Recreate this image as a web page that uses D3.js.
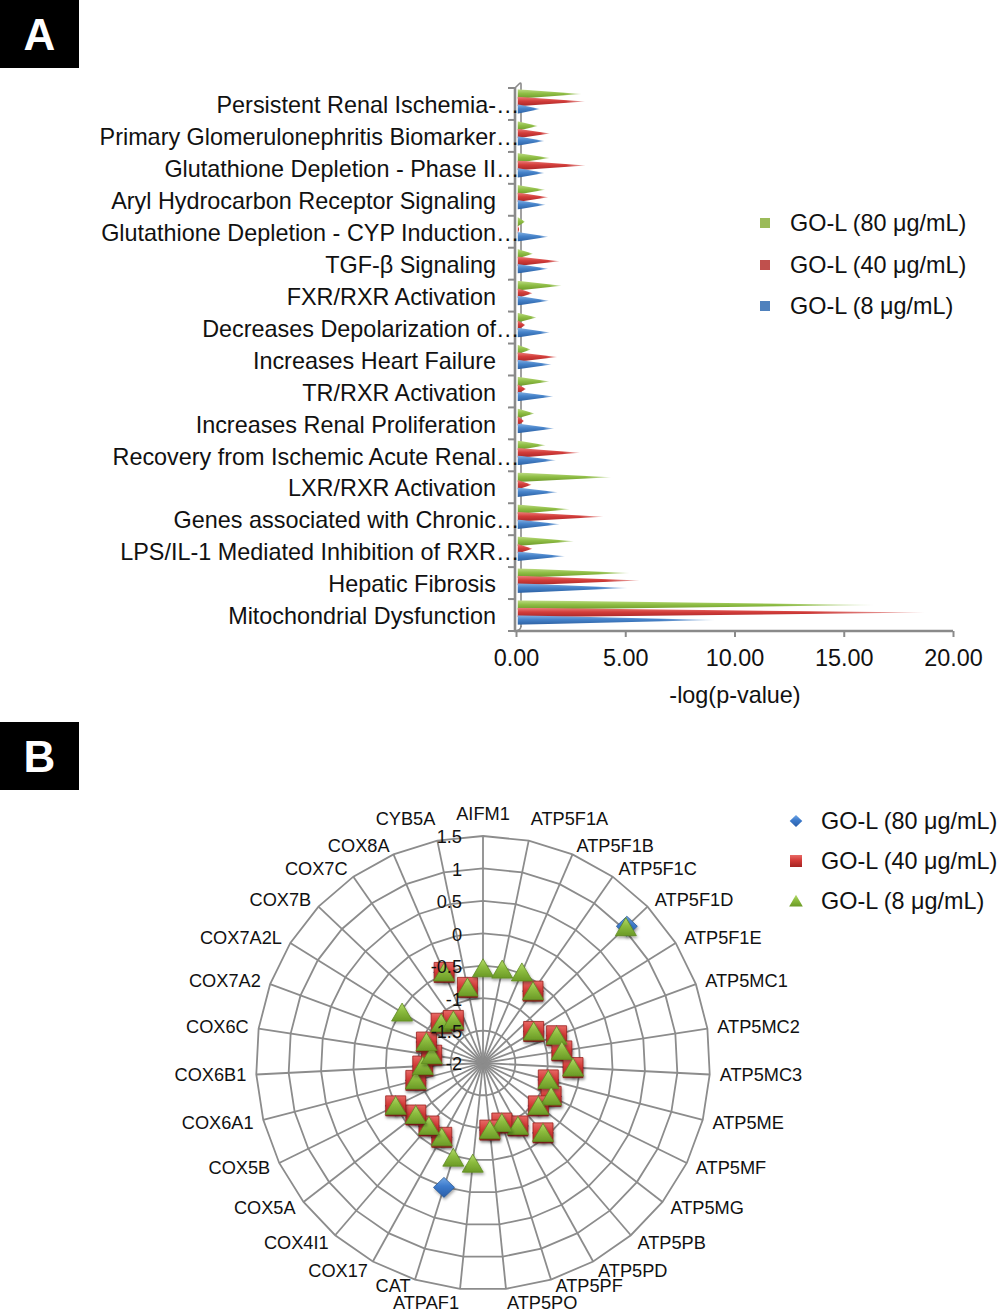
<!DOCTYPE html>
<html><head><meta charset="utf-8">
<script src="https://cdn.jsdelivr.net/npm/d3@7"></script>
<style>
html,body{margin:0;padding:0;background:#fff;}
svg{display:block;font-family:"Liberation Sans",Arial,sans-serif;}
</style></head>
<body>
<svg id="chart" width="1000" height="1315"></svg>
<script>
// ---------------- Panel A data ----------------
const categoriesA = [
  "Persistent Renal Ischemia-…",
  "Primary Glomerulonephritis Biomarker…",
  "Glutathione Depletion - Phase II…",
  "Aryl Hydrocarbon Receptor Signaling",
  "Glutathione Depletion - CYP Induction…",
  "TGF-β Signaling",
  "FXR/RXR Activation",
  "Decreases Depolarization of…",
  "Increases Heart Failure",
  "TR/RXR Activation",
  "Increases Renal Proliferation",
  "Recovery from Ischemic Acute Renal…",
  "LXR/RXR Activation",
  "Genes associated with Chronic…",
  "LPS/IL-1 Mediated Inhibition of RXR…",
  "Hepatic Fibrosis",
  "Mitochondrial Dysfunction"
];
const seriesNamesA = ["GO-L (80 μg/mL)", "GO-L (40 μg/mL)", "GO-L (8 μg/mL)"];
const valuesA80 = [3.0, 1.0, 1.55, 1.33, 0.41, 0.78, 2.09, 0.94, 0.67, 1.53, 0.84, 1.36, 4.35, 2.47, 2.65, 5.2, 16.35];
const valuesA40 = [3.16, 1.55, 3.19, 1.48, 0.15, 2.0, 0.76, 0.43, 1.89, 0.46, 0.37, 2.93, 0.72, 4.0, 0.76, 5.67, 18.7];
const valuesA8  = [1.1, 1.3, 1.3, 1.36, 1.48, 1.48, 1.51, 1.55, 1.63, 1.71, 1.75, 1.83, 1.91, 2.01, 2.24, 5.1, 9.1];
const ticksA = [0, 5, 10, 15, 20];
const axisTitleA = "-log(p-value)";

// ---------------- Panel B data ----------------
const categoriesB = ["AIFM1","ATP5F1A","ATP5F1B","ATP5F1C","ATP5F1D","ATP5F1E","ATP5MC1","ATP5MC2","ATP5MC3","ATP5ME","ATP5MF","ATP5MG","ATP5PB","ATP5PD","ATP5PF","ATP5PO","ATPAF1","CAT","COX17","COX4I1","COX5A","COX5B","COX6A1","COX6B1","COX6C","COX7A2","COX7A2L","COX7B","COX7C","COX8A","CYB5A"];
const seriesNamesB = ["GO-L (80 μg/mL)", "GO-L (40 μg/mL)", "GO-L (8 μg/mL)"];
const valuesB80 = [null,null,null,-0.65,1.06,-1.08,-0.79,-0.77,-0.61,-0.96,-0.83,-0.92,-0.58,-0.89,-1.03,-0.96,null,0.01,-0.69,-0.72,-0.69,-0.5,-0.93,-1.07,-1.2,-1.07,null,-1.11,-1.2,-0.48,-0.81];
const valuesB40 = [null,null,null,-0.65,null,-1.08,-0.79,-0.77,-0.61,-0.96,-0.83,-0.92,-0.58,-0.89,-1.03,-0.96,null,null,-0.69,-0.72,-0.69,-0.5,-0.93,-1.07,-1.2,-1.07,null,-1.11,-1.2,-0.48,-0.81];
const valuesB8  = [-0.54,-0.53,-0.48,-0.65,1.04,-1.08,-0.79,-0.77,-0.61,-0.96,-0.83,-0.92,-0.58,-0.89,-1.03,-0.96,-0.44,-0.47,-0.69,-0.72,-0.69,-0.5,-0.93,-1.07,-1.2,-1.07,-0.53,-1.11,-1.2,-0.48,-0.81];
const ticksB = [-2, -1.5, -1, -0.5, 0, 0.5, 1, 1.5];

// ---------------- drawing ----------------
const svg = d3.select("#chart");
const defs = svg.append("defs");

function vGrad(id, c1, c2, c3) {
  const g = defs.append("linearGradient").attr("id", id).attr("x1",0).attr("y1",0).attr("x2",0).attr("y2",1);
  g.append("stop").attr("offset","0%").attr("stop-color",c1);
  g.append("stop").attr("offset","45%").attr("stop-color",c2);
  g.append("stop").attr("offset","100%").attr("stop-color",c3);
}
vGrad("gG", "#bedb84", "#8fbe45", "#6a9628");
vGrad("gR", "#ec807c", "#d33d3a", "#a52527");
vGrad("gB", "#86b2e3", "#4683ca", "#2c60a2");
// horizontal fade mask for cone tips
const hf = defs.append("linearGradient").attr("id","hfade").attr("x1",0).attr("y1",0).attr("x2",1).attr("y2",0);
hf.append("stop").attr("offset","0%").attr("stop-color","#fff");
hf.append("stop").attr("offset","72%").attr("stop-color","#fff");
hf.append("stop").attr("offset","100%").attr("stop-color","#555");
const mask = defs.append("mask").attr("id","fade").attr("maskContentUnits","objectBoundingBox");
mask.append("rect").attr("width",1).attr("height",1).attr("fill","url(#hfade)");

// marker gradients (B)
vGrad("mG", "#b6da6e", "#8cbc3e", "#6b9a26");
vGrad("mR", "#e86a66", "#d23a37", "#a52422");
vGrad("mB", "#6fa6e6", "#3c7acb", "#2a5ea8");
const shadow = defs.append("filter").attr("id","shadow").attr("x","-50%").attr("y","-50%").attr("width","200%").attr("height","200%");
shadow.append("feDropShadow").attr("dx",1).attr("dy",2).attr("stdDeviation",1.5).attr("flood-color","#000").attr("flood-opacity",0.35);

// Panel labels
function panelLabel(y, t) {
  svg.append("rect").attr("x",0).attr("y",y).attr("width",79).attr("height",68).attr("fill","#000");
  svg.append("text").attr("x",39.5).attr("y",y+34).attr("dy","0.36em").attr("text-anchor","middle")
    .attr("fill","#fff").attr("font-weight","bold").attr("font-size",44).text(t);
}
panelLabel(0, "A");
panelLabel(722, "B");

// ---------- Panel A ----------
const gA = svg.append("g");
const xA = d3.scaleLinear().domain([0, 20]).range([516, 953]);
const yA = d3.scaleBand().domain(categoriesA).range([88, 631]);
const axisColor = "#8a8a8a";
const fsA = 23.4;

// 3D walls / axes
gA.append("path").attr("d", `M521,627 L521,84 Q521,82 519,84 L515,88`).attr("fill","none").attr("stroke",axisColor).attr("stroke-width",1.6);
gA.append("line").attr("x1",515).attr("x2",515).attr("y1",88).attr("y2",631).attr("stroke",axisColor).attr("stroke-width",2.6);
gA.append("path").attr("d", `M521,626 Q521,630 516,631`).attr("fill","none").attr("stroke",axisColor).attr("stroke-width",1.6);
// category ticks
const bandEdges = categoriesA.map(c => yA(c)).concat([yA.range()[1]]);
gA.selectAll(".ytick").data(bandEdges).join("line")
  .attr("x1",508).attr("x2",515).attr("y1",d=>d).attr("y2",d=>d).attr("stroke",axisColor).attr("stroke-width",2);
// x axis
const xAxis = d3.axisBottom(xA).tickValues(ticksA).tickFormat(d3.format(".2f")).tickSize(6).tickPadding(12);
const xg = gA.append("g").attr("transform","translate(0,631)").call(xAxis);
xg.select(".domain").attr("stroke",axisColor).attr("stroke-width",2.4).attr("d","M514,0H953");
xg.selectAll(".tick line").attr("stroke",axisColor).attr("stroke-width",2);
xg.selectAll(".tick text").attr("font-size",fsA).attr("fill","#111").attr("font-family","Liberation Sans, Arial, sans-serif");
gA.append("text").attr("x",735).attr("y",695).attr("dy","0.35em").attr("text-anchor","middle").attr("font-size",fsA).attr("fill","#111").text(axisTitleA);

// category labels
categoriesA.forEach(c => {
  const cy = yA(c) + yA.bandwidth()/2 + 1;
  const trunc = c.endsWith("…");
  const main = trunc ? c.slice(0,-1) : c;
  gA.append("text").attr("x",496).attr("y",cy).attr("dy","0.35em").attr("text-anchor","end").attr("font-size",fsA).attr("fill","#111").text(main);
  if (trunc) gA.append("text").attr("x",496).attr("y",cy).attr("dy","0.35em").attr("text-anchor","start").attr("font-size",fsA).attr("fill","#111").text("…");
});

// cones
const seriesA = [
  {vals: valuesA80, grad: "url(#gG)", off: 6},
  {vals: valuesA40, grad: "url(#gR)", off: 13.5},
  {vals: valuesA8,  grad: "url(#gB)", off: 21}
];
const hh = 4.8;
seriesA.forEach(s => {
  gA.selectAll(null).data(categoriesA.map((c,i)=>({c, v:s.vals[i]}))).join("path")
    .attr("d", d => {
      const cy = yA(d.c) + s.off;
      const x0 = xA(0) + 1.5, xt = xA(d.v);
      return `M${x0},${cy-hh} L${xt},${cy} L${x0},${cy+hh} Z`;
    })
    .attr("fill", s.grad).attr("mask","url(#fade)");
});

// legend A
const legA = [{n: seriesNamesA[0], c:"#9bbb59", y:223},{n: seriesNamesA[1], c:"#c0504d", y:265},{n: seriesNamesA[2], c:"#4f81bd", y:306}];
legA.forEach(l => {
  gA.append("rect").attr("x",760).attr("y",l.y-5).attr("width",10).attr("height",10).attr("fill",l.c);
  gA.append("text").attr("x",790).attr("y",l.y).attr("dy","0.35em").attr("font-size",fsA).attr("fill","#111").text(l.n);
});

// ---------- Panel B ----------
const gB = svg.append("g");
const cx = 483, cy = 1063;
const rB = d3.scaleLinear().domain([-2, 1.5]).range([0, 227]);
const n = categoriesB.length;
const ang = i => i * 2 * Math.PI / n;
const pt = (i, v) => [cx + rB(v) * Math.sin(ang(i)), cy - rB(v) * Math.cos(ang(i))];
const gridColor = "#8c8c8c";
const fsB = 18.2;

// rings
ticksB.slice(1).forEach(t => {
  const pts = categoriesB.map((c,i)=>pt(i,t));
  gB.append("path").attr("d", d3.line()(pts) + "Z").attr("fill","none").attr("stroke",gridColor).attr("stroke-width",1.8);
});
// spokes
categoriesB.forEach((c,i) => {
  const [x,y] = pt(i, 1.5);
  gB.append("line").attr("x1",cx).attr("y1",cy).attr("x2",x).attr("y2",y).attr("stroke",gridColor).attr("stroke-width",1.8);
});
// category labels
categoriesB.forEach((c,i) => {
  const a = ang(i), s = Math.sin(a), co = Math.cos(a);
  const R = 237;
  let x = cx + R*s, y = cy - R*co;
  let anchor = s > 0.05 ? "start" : (s < -0.05 ? "end" : "middle");
  if (Math.abs(s) < 0.25) y -= co * (co > 0 ? 12 : 4.2);
  if (co < -0.9 && Math.abs(s) >= 0.25) { y -= 3.5; x -= (s < 0 ? 1.5 : -1.5); }
  gB.append("text").attr("x",x).attr("y",y).attr("dy","0.35em").attr("text-anchor",anchor)
    .attr("font-size",fsB).attr("fill","#111").text(c);
});

// markers
const diamond = (s) => `M0,${-s} L${s*1.05},0 L0,${s} L${-s*1.05},0 Z`;
const square = (s) => `M${-s},${-s} H${s} V${s} H${-s} Z`;
const tri = (s) => `M0,${-s*0.95} L${s*1.05},${s*0.85} L${-s*1.05},${s*0.85} Z`;
const seriesB = [
  {vals: valuesB80, shape: diamond(10), fill: "url(#mB)", stroke:"#2c5a95"},
  {vals: valuesB40, shape: square(10), fill: "url(#mR)", stroke:"#9a2220"},
  {vals: valuesB8,  shape: tri(10), fill: "url(#mG)", stroke:"#5f8a22"}
];
seriesB.forEach(s => {
  const data = categoriesB.map((c,i)=>({i, v:s.vals[i]})).filter(d => d.v !== null);
  gB.selectAll(null).data(data).join("path")
    .attr("transform", d => { const [x,y] = pt(d.i, d.v); return `translate(${x},${y})`; })
    .attr("d", s.shape).attr("fill", s.fill).attr("stroke", s.stroke).attr("stroke-width",0.8)
    .attr("filter","url(#shadow)");
});
// radial tick labels (drawn above markers)
ticksB.forEach(t => {
  gB.append("text").attr("x",462).attr("y",cy - rB(t) + 1).attr("dy","0.35em").attr("text-anchor","end")
    .attr("font-size",fsB).attr("fill","#111").text(t);
});

// legend B
const legB = [
  {n: seriesNamesB[0], shape: diamond(6), fill:"url(#mB)", y:821},
  {n: seriesNamesB[1], shape: square(6), fill:"url(#mR)", y:861},
  {n: seriesNamesB[2], shape: tri(6.5), fill:"url(#mG)", y:901}
];
legB.forEach(l => {
  gB.append("path").attr("transform",`translate(796,${l.y})`).attr("d",l.shape).attr("fill",l.fill);
  gB.append("text").attr("x",821).attr("y",l.y).attr("dy","0.35em").attr("font-size",fsA).attr("fill","#111").text(l.n);
});
</script>
</body></html>
